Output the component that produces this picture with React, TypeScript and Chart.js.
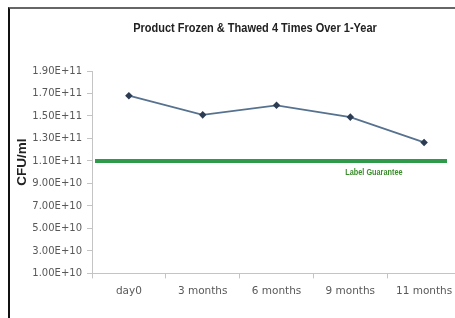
import React, { useEffect, useRef } from "react";
import { Chart, registerables } from "chart.js";

Chart.register(...registerables);

const categories = ["day0", "3 months", "6 months", "9 months", "11 months"];
const cfuValues = [1.68e11, 1.51e11, 1.595e11, 1.49e11, 1.265e11];
const yTickValues = [1e10, 3e10, 5e10, 7e10, 9e10, 1.1e11, 1.3e11, 1.5e11, 1.7e11, 1.9e11];
const guaranteeValue = 1.1e11;
const guaranteeLabel = "Label Guarantee";
const chartTitle = "Product Frozen & Thawed 4 Times Over 1-Year";
const yAxisTitle = "CFU/ml";

function drawCondensed(ctx: any, text: string, x: number, y: number, font: string, color: string, sx: number, rot = 0) {
  ctx.save();
  ctx.font = font;
  ctx.fillStyle = color;
  ctx.textAlign = "center";
  ctx.textBaseline = "middle";
  ctx.translate(x, y);
  if (rot) ctx.rotate(rot);
  ctx.scale(sx, 1);
  ctx.fillText(text, 0, 0);
  ctx.restore();
}

const guaranteePlugin = {
  id: "guaranteeLine",
  afterDatasetsDraw(chart: any) {
    const { ctx, chartArea, scales } = chart;
    const y = scales.y.getPixelForValue(guaranteeValue);
    ctx.save();
    ctx.strokeStyle = "#2f9a4a";
    ctx.lineWidth = 4;
    ctx.beginPath();
    ctx.moveTo(chartArea.left + 3, y);
    ctx.lineTo(chartArea.right - 14, y);
    ctx.stroke();
    ctx.restore();
    const x9 = scales.x.getPixelForValue(3);
    const x11 = scales.x.getPixelForValue(4);
    drawCondensed(
      ctx,
      guaranteeLabel,
      x9 + (x11 - x9) * 0.32,
      y + 11,
      "bold 9.5px 'Liberation Sans', sans-serif",
      "#3a8c2c",
      0.77
    );
  },
};

const titlePlugin = {
  id: "centeredTitle",
  afterDraw(chart: any) {
    drawCondensed(
      chart.ctx,
      chartTitle,
      chart.width / 2,
      20,
      "bold 12.5px 'Liberation Sans', sans-serif",
      "#222222",
      0.88
    );
    const { chartArea } = chart;
    drawCondensed(
      chart.ctx,
      yAxisTitle,
      12,
      (chartArea.top + chartArea.bottom) / 2 - 10,
      "bold 13.5px 'Liberation Sans', sans-serif",
      "#222222",
      1,
      -Math.PI / 2
    );
  },
};

export default function App() {
  const canvasRef = useRef<HTMLCanvasElement | null>(null);

  useEffect(() => {
    const canvas = canvasRef.current;
    if (!canvas) return;
    const chart = new Chart(canvas, {
      type: "line",
      data: {
        labels: categories,
        datasets: [
          {
            data: cfuValues,
            borderColor: "#56728f",
            borderWidth: 1.8,
            pointStyle: "rectRot",
            pointRadius: 2.5,
            pointBackgroundColor: "#2c3c52",
            pointBorderColor: "#2c3c52",
            tension: 0,
          },
        ],
      },
      options: {
        responsive: false,
        animation: false,
        devicePixelRatio: 1,
        layout: { padding: { left: 0, right: 39, top: 62, bottom: 13 } },
        plugins: {
          legend: { display: false },
          tooltip: { enabled: false },
          title: { display: false },
        },
        scales: {
          x: {
            type: "category",
            offset: true,
            border: { display: true, color: "#c4c4c4", width: 1 },
            grid: { display: true, offset: true, drawOnChartArea: false, tickLength: 5, color: "#c4c4c4" },
            ticks: {
              color: "#595959",
              padding: 7,
              maxRotation: 0,
              autoSkip: false,
              font: { family: "'DejaVu Sans', sans-serif", size: 10.5 },
            },
          },
          y: {
            type: "linear",
            min: 1e10,
            max: 1.9e11,
            afterBuildTicks: (scale: any) => {
              scale.ticks = yTickValues.map((v) => ({ value: v }));
            },
            afterFit: (scale: any) => {
              scale.width = 82;
            },
            border: { display: true, color: "#c4c4c4", width: 1 },
            grid: { display: true, drawOnChartArea: false, tickLength: 5, color: "#c4c4c4" },
            ticks: {
              color: "#595959",
              padding: 5,
              font: { family: "'DejaVu Sans', sans-serif", size: 10 },
              callback: (v: any) => Number(v).toExponential(2).toUpperCase(),
            },
            title: { display: false },
          },
        },
      },
      plugins: [guaranteePlugin, titlePlugin],
    });
    return () => chart.destroy();
  }, []);

  return (
    <div
      style={{
        position: "fixed",
        left: 8,
        top: 7,
        width: 447,
        height: 311,
        overflow: "hidden",
        borderTop: "2px solid #666666",
        borderLeft: "2px solid #111111",
        background: "#ffffff",
      }}
    >
      <canvas ref={canvasRef} width={490} height={309} style={{ display: "block" }} />
    </div>
  );
}
